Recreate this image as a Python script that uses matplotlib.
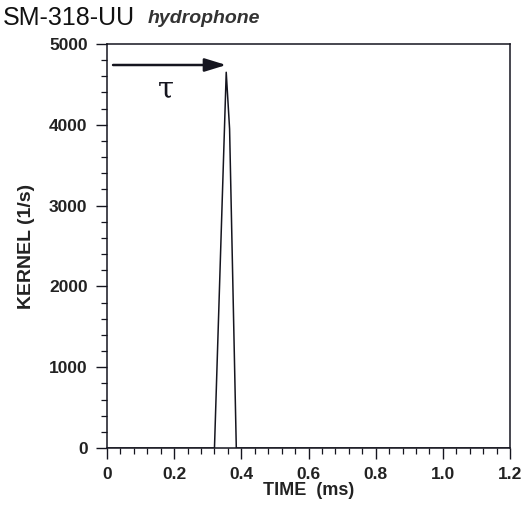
import numpy as np
import matplotlib
matplotlib.use('Agg')
import matplotlib.pyplot as plt
from matplotlib.ticker import MultipleLocator

plt.rcParams['font.family'] = ['Liberation Sans', 'DejaVu Sans']

# kernel pulse (time in ms, kernel in 1/s)
time_ms = [0.0, 0.32, 0.355, 0.365, 0.385, 1.2]
kernel = [0.0, 0.0, 4650.0, 3950.0, 0.0, 0.0]

# delay arrow tau: from start to peak
tau_start, tau_end, tau_level = 0.018, 0.355, 4740.0

xticks = [0, 0.2, 0.4, 0.6, 0.8, 1.0, 1.2]
xticklabels = ['0', '0.2', '0.4', '0.6', '0.8', '1.0', '1.2']
yticks = [0, 1000, 2000, 3000, 4000, 5000]

col = '#15151f'
txtcol = '#222222'

fig = plt.figure(figsize=(5.24, 5.08), dpi=100)
ax = fig.add_axes([0.2042, 0.1181, 0.7691, 0.7953])

ax.plot(time_ms, kernel, color=col, linewidth=1.1)

ax.annotate('', xy=(tau_end, tau_level), xytext=(tau_start, tau_level),
            arrowprops=dict(arrowstyle='-|>,head_length=1.3,head_width=0.4',
                            color=col, lw=1.8, shrinkA=0, shrinkB=0))
ax.text(0.176, 4443, 'τ', fontsize=21, ha='center', va='center', color=col,
        family='DejaVu Serif')

ax.set_xlim(0, 1.2)
ax.set_ylim(0, 5000)
ax.set_xticks(xticks)
ax.set_xticklabels(xticklabels)
ax.set_yticks(yticks)
ax.xaxis.set_minor_locator(MultipleLocator(0.04))
ax.yaxis.set_minor_locator(MultipleLocator(200))

ax.tick_params(which='major', direction='out', length=8, width=1.0, color=col,
               labelsize=12.5, pad=6)
ax.tick_params(which='minor', direction='out', length=4.5, width=0.9, color=col)
ax.tick_params(top=False, right=False)
for lab in ax.get_xticklabels() + ax.get_yticklabels():
    lab.set_fontweight('bold')
    lab.set_color(txtcol)
for sp in ax.spines.values():
    sp.set_color(col)
    sp.set_linewidth(1.1)

ax.set_xlabel('TIME  (ms)', fontsize=13, fontweight='bold', color=txtcol, labelpad=0)
ax.set_ylabel('KERNEL (1/s)', fontsize=14, fontweight='bold', color=txtcol, labelpad=10)

# caption: instrument name + sensor type
fig.text(0.005, 0.951, 'SM-318-UU', fontsize=18, ha='left', va='baseline', color='#111111')
fig.text(0.281, 0.955, 'hydrophone', fontsize=14, ha='left', va='baseline',
         fontweight='bold', fontstyle='italic', color='#333333')

fig.savefig('out.png', dpi=100)
